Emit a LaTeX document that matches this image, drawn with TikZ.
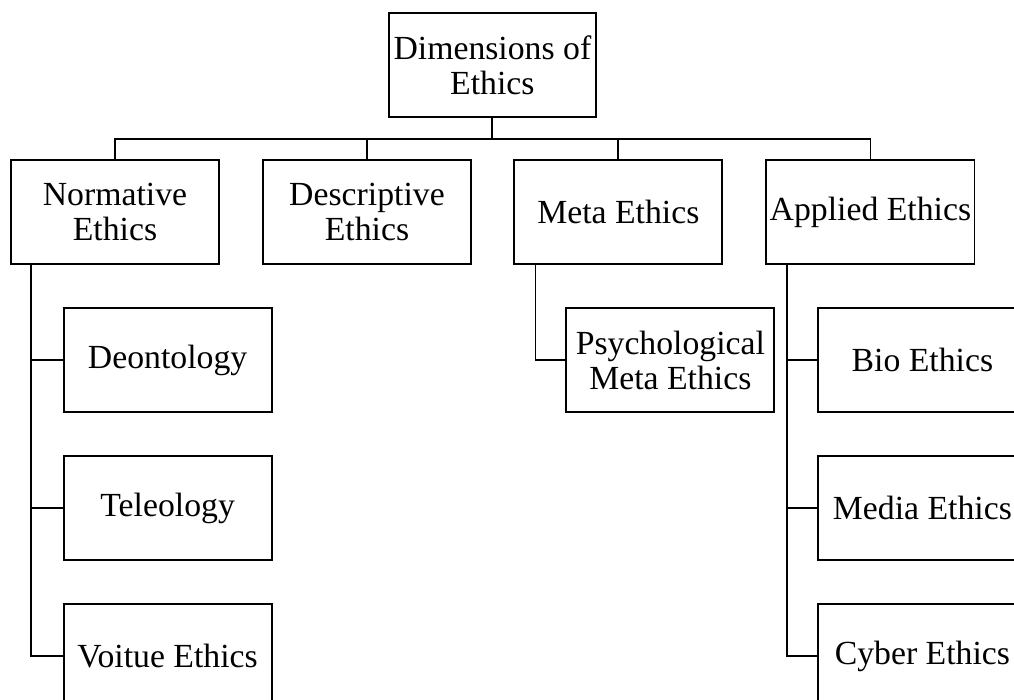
\documentclass[tikz,border=0pt]{standalone}
\usepackage{fontspec}
\setmainfont{Liberation Serif}
\usepackage{tikz}
\usetikzlibrary{positioning}

\tikzset{
  dimbox/.style={draw=black, rectangle, line width=1.3pt, inner sep=0pt,
    minimum width=5.2cm, minimum height=2.6cm, align=center,
    font=\fontsize{24}{25}\selectfont},
  treeline/.style={line width=1.3pt}
}

\begin{document}
\begin{tikzpicture}
\useasboundingbox (0,0) rectangle (25.35,-17.5);
\clip (0,0) rectangle (25.35,-17.5);

\node[dimbox, minimum width=5.18cm] (dims) at (12.31,-1.63)
  {Dimensions of\\Ethics};

\node[dimbox] (normative) at (2.875,-5.31)
  {Normative\\Ethics};
\node[dimbox] (descriptive) at (9.175,-5.31)
  {Descriptive\\Ethics};
\node[dimbox] (meta) at (15.46,-5.31)
  {Meta Ethics};
\node[dimbox] (applied) at (21.76,-5.31)
  {Applied Ethics};

\node[dimbox] (deontology) at (4.19,-9.0)
  {Deontology};
\node[dimbox] (teleology) at (4.19,-12.71)
  {Teleology};
\node[dimbox] (voitue) at (4.19,-16.4)
  {Voitue Ethics};

\node[dimbox] (psycho) at (16.76,-9.01)
  {Psychological\\Meta Ethics};

\node[dimbox] (bio) at (23.06,-9.01)
  {Bio Ethics};
\node[dimbox] (media) at (23.06,-12.71)
  {Media Ethics};
\node[dimbox] (cyber) at (23.06,-16.4)
  {Cyber Ethics};

\draw[treeline] (dims.south) -- ++(0,-0.53) -| (normative.north);
\draw[treeline] (dims.south) -- ++(0,-0.53) -| (descriptive.north);
\draw[treeline] (dims.south) -- ++(0,-0.53) -| (meta.north);
\draw[treeline] (dims.south) -- ++(0,-0.53) -| (applied.north);

\draw[treeline] ([xshift=0.53cm]normative.south west) |- (deontology.west);
\draw[treeline] ([xshift=0.53cm]normative.south west) |- (teleology.west);
\draw[treeline] ([xshift=0.53cm]normative.south west) |- (voitue.west);

\draw[treeline] ([xshift=0.55cm]meta.south west) |- (psycho.west);

\draw[treeline] ([xshift=0.53cm]applied.south west) |- (bio.west);
\draw[treeline] ([xshift=0.53cm]applied.south west) |- (media.west);
\draw[treeline] ([xshift=0.53cm]applied.south west) |- (cyber.west);

\end{tikzpicture}
\end{document}
